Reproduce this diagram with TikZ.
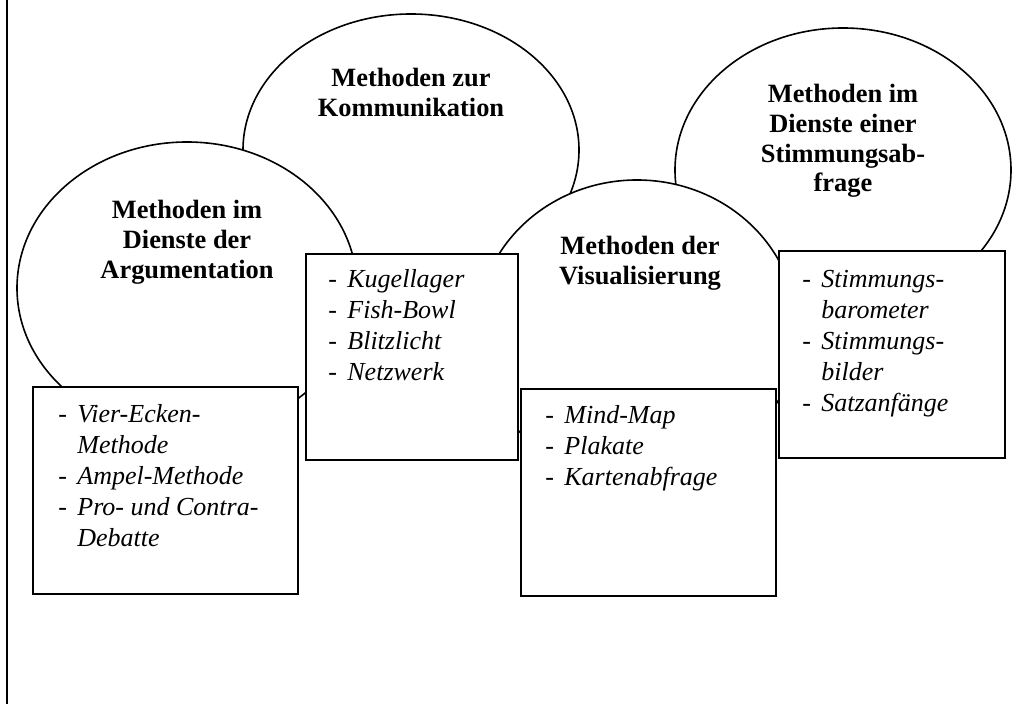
\documentclass[tikz,border=0pt]{standalone}
\usepackage{fontspec}
\setmainfont{Liberation Serif}
\usepackage{array}
\usepackage{tikz}
\usetikzlibrary{positioning,shapes.geometric}
\tikzset{blob/.style={ellipse,draw,line width=.8pt,fill=white,inner sep=0pt},
  heading/.style={align=center,inner sep=0pt,font=\bfseries\fontsize{13.2}{14.8}\selectfont},
  listbox/.style={draw,line width=.9pt,fill=white,anchor=north west,inner sep=0pt},
  items/.style={inner sep=0pt,font=\fontsize{13}{15.5}\selectfont}}
\newcommand{\methlist}[1]{\begin{tabular}{@{}p{9.5pt}@{}>{\itshape}l@{}}#1\end{tabular}}

\begin{document}
\begin{tikzpicture}[x=.5pt,y=-.5pt]
\useasboundingbox (0,0) rectangle (1024,704);
\draw[line width=1pt] (7,0) -- (7,704);
% ellipses, back to front
\node[blob,minimum width=168pt,minimum height=136pt] (komblob) at (411,150) {};
\node[blob,minimum width=168pt,minimum height=142pt] (stblob) at (843,170) {};
\node[blob,minimum width=170pt,minimum height=146pt] (argblob) at (187,288) {};
\node[blob,minimum width=160pt,minimum height=150pt] (visblob) at (637,330) {};
\node[heading,below=27.5pt of komblob.north] (komtitle) {Methoden zur\\Kommunikation};
\node[heading,below=28.5pt of stblob.north] (sttitle) {Methoden im\\Dienste einer\\Stimmungsab-\\frage};
\node[heading,below=29.5pt of argblob.north] (argtitle) {Methoden im\\Dienste der\\Argumentation};
\node[heading,below=28.5pt of visblob.north,xshift=1.5pt] (vistitle) {Methoden der\\Visualisierung};
% boxes
\node[listbox,minimum width=132.5pt,minimum height=103.5pt] (argbox) at (32,386) {};
\node[listbox,minimum width=106pt,minimum height=103pt] (kombox) at (305,253) {};
\node[listbox,minimum width=127.5pt,minimum height=103.5pt] (visbox) at (520,388) {};
\node[listbox,minimum width=113pt,minimum height=103.5pt] (stbox) at (778,250) {};
\node[items,below right=7pt and 13pt of argbox.north west] (arglist)
  {\methlist{- & Vier-Ecken-\\ & Methode\\ - & Ampel-Methode\\ - & Pro- und Contra-\\ & Debatte}};
\node[items,below right=6pt and 11.5pt of kombox.north west] (komlist)
  {\methlist{- & Kugellager\\ - & Fish-Bowl\\ - & Blitzlicht\\ - & Netzwerk}};
\node[items,below right=6.5pt and 12.5pt of visbox.north west] (vislist)
  {\methlist{- & Mind-Map\\ - & Plakate\\ - & Kartenabfrage}};
\node[items,below right=7.5pt and 12pt of stbox.north west] (stlist)
  {\methlist{- & Stimmungs-\\ & barometer\\ - & Stimmungs-\\ & bilder\\ - & Satzanfänge}};
\end{tikzpicture}
\end{document}
